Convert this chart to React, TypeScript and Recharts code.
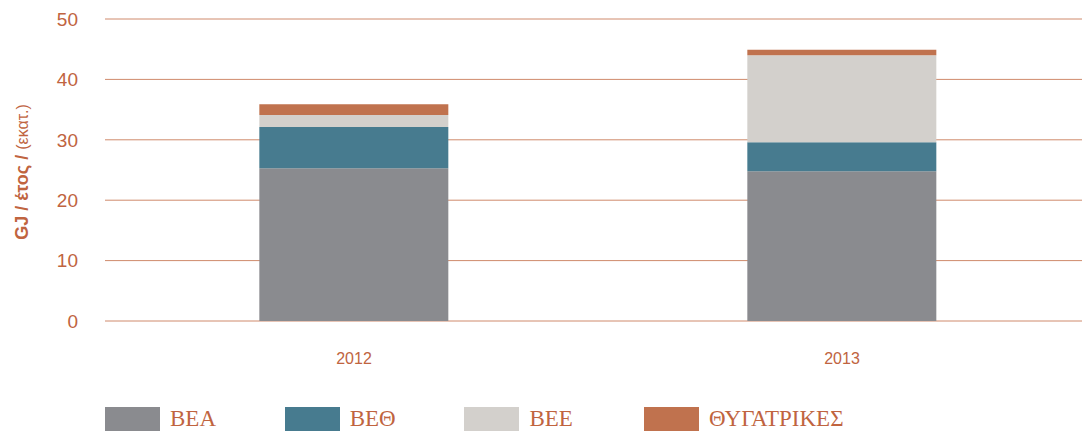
import { Bar, BarChart, CartesianGrid, XAxis, YAxis } from 'recharts';

const years = ['2012', '2013'];
const bea = [25.3, 24.8];
const beth = [6.8, 4.8];
const bee = [2.0, 14.4];
const thygatrikes = [1.8, 0.9];
const yTicks = [0, 10, 20, 30, 40, 50];

const seriesInfo = [
  { key: 'bea', label: 'ΒΕΑ', color: '#8a8b8f' },
  { key: 'beth', label: 'ΒΕΘ', color: '#477b8f' },
  { key: 'bee', label: 'ΒΕΕ', color: '#d3d0cc' },
  { key: 'thygatrikes', label: 'ΘΥΓΑΤΡΙΚΕΣ', color: '#c0724e' },
];

const textColor = '#c0643f';
const gridColor = '#cf8a6c';

const data = years.map((year, i) => ({
  year,
  bea: bea[i],
  beth: beth[i],
  bee: bee[i],
  thygatrikes: thygatrikes[i],
}));

function YLabel() {
  return (
    <text
      x={22}
      y={172}
      transform="rotate(-90 22 172)"
      textAnchor="middle"
      dominantBaseline="central"
      fill={textColor}
      fontFamily="Liberation Sans, Arial, sans-serif"
    >
      <tspan fontWeight="bold" fontSize={18}>GJ / έτος / </tspan>
      <tspan fontSize={16}>(εκατ.)</tspan>
    </text>
  );
}

export default function App() {
  return (
    <div style={{ position: 'absolute', left: 0, top: 0, width: 1082, height: 431, overflow: 'hidden', background: '#fff' }}>
      <BarChart
        width={1086}
        height={431}
        data={data}
        margin={{ top: 19, right: 0, bottom: 0, left: 0 }}
        barCategoryGap="30.6%"
      >
        <CartesianGrid vertical={false} stroke={gridColor} strokeWidth={1} />
        <XAxis
          dataKey="year"
          height={110}
          axisLine={false}
          tickLine={false}
          tickMargin={26}
          tick={{ fill: textColor, fontSize: 16, fontFamily: 'Liberation Sans, Arial, sans-serif' }}
        />
        <YAxis
          width={110}
          domain={[0, 50]}
          ticks={yTicks}
          axisLine={false}
          tickLine={{ stroke: gridColor }}
          tickSize={5}
          tickMargin={27}
          tick={{ fill: textColor, fontSize: 19, fontFamily: 'Liberation Sans, Arial, sans-serif' }}
          label={<YLabel />}
        />
        {seriesInfo.map((s) => (
          <Bar key={s.key} dataKey={s.key} stackId="a" fill={s.color} isAnimationActive={false} />
        ))}
      </BarChart>
      {seriesInfo.map((s, i) => (
        <div
          key={s.key}
          style={{ position: 'absolute', left: 105 + i * 179.7, top: 407, display: 'flex', alignItems: 'center' }}
        >
          <div style={{ width: 55, height: 24, background: s.color }} />
          <span
            style={{
              marginLeft: 10,
              color: textColor,
              fontFamily: 'Liberation Serif, Times New Roman, serif',
              fontSize: 23,
              lineHeight: '24px',
            }}
          >
            {s.label}
          </span>
        </div>
      ))}
    </div>
  );
}
